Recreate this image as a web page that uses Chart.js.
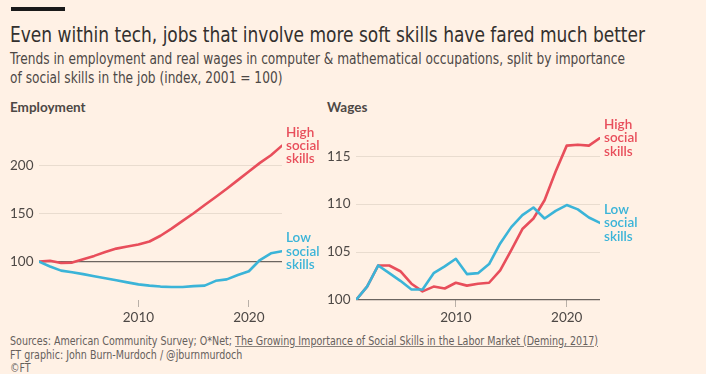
<!DOCTYPE html>
<html>
<head>
<meta charset="utf-8">
<script src="https://cdn.jsdelivr.net/npm/chart.js@4"></script>
<style>
  html, body { margin: 0; padding: 0; }
  body { width: 706px; height: 374px; background: #fff1e5; position: relative; overflow: hidden;
         font-family: "DejaVu Sans Condensed", Lato, sans-serif; color: #33302e; }
  .abs { position: absolute; white-space: nowrap; transform-origin: 0 0; }
  .abs span { display: block; width: max-content; }
  #bar { left: 11px; top: 7px; width: 54px; height: 4px; background: #1a1a1a; }
  #title { left: 10px; top: 23px; font-size: 21px; line-height: 24px; }
  #sub { left: 10px; top: 50px; font-size: 15px; line-height: 19px; color: #4d4845; }
  .panel { top: 99px; font-size: 13.5px; line-height: 16px; font-weight: bold; color: #4d4845; font-family: Lato, sans-serif; }
  #foot { left: 10px; top: 335px; font-size: 12px; line-height: 13.7px; color: #66605c; }
  #foot u { text-decoration-color: #8a827c; }
  canvas { position: absolute; }
</style>
</head>
<body>
<div id="bar" class="abs"></div>
<div id="title" class="abs fit" data-w="635"><span>Even within tech, jobs that involve more soft skills have fared much better</span></div>
<div id="sub" class="abs fit" data-w="615"><span>Trends in employment and real wages in computer &amp; mathematical occupations, split by importance</span><span>of social skills in the job (index, 2001 = 100)</span></div>
<div class="abs panel" style="left:10px">Employment</div>
<div class="abs panel" style="left:327px">Wages</div>
<div id="foot" class="abs fit" data-w="588"><span>Sources: American Community Survey; O*Net; <u>The Growing Importance of Social Skills in the Labor Market (Deming, 2017)</u></span><span>FT graphic: John Burn-Murdoch / @jburnmurdoch</span><span>©FT</span></div>

<canvas id="emp" width="330" height="235" style="left:0px;top:95px"></canvas>
<canvas id="wage" width="388" height="235" style="left:318px;top:95px"></canvas>

<script>
// squeeze the wide fallback font to the width of the narrow original
document.querySelectorAll(".fit").forEach(el => {
    const widest = Math.max(...[...el.children].map(s => s.getBoundingClientRect().width));
    el.style.transform = "scaleX(" + (el.dataset.w / widest) + ")";
});

const years = [2001, 2002, 2003, 2004, 2005, 2006, 2007, 2008, 2009, 2010, 2011, 2012,
               2013, 2014, 2015, 2016, 2017, 2018, 2019, 2020, 2021, 2022, 2023];

// Employment index (2001 = 100)
const empHigh = [100, 101, 98.6, 99, 102.4, 106, 110, 113.6, 115.7, 117.8, 121, 127,
                 134.5, 142.5, 150.5, 159, 167.5, 176, 185, 194, 203, 211, 221];
const empLow = [100, 95, 90.6, 89, 87, 84.7, 82.6, 80.5, 78.4, 76.3, 75, 74,
                73.5, 73.5, 74.5, 75, 80, 81.5, 86, 90, 101.7, 108.7, 110.8];

// Real wages index (2001 = 100)
const wageHigh = [100, 101.4, 103.6, 103.6, 103, 101.7, 100.9, 101.4, 101.2, 101.8, 101.5, 101.7,
                  101.8, 103.1, 105.2, 107.4, 108.5, 110.4, 113.4, 116.1, 116.2, 116.1, 116.9];
const wageLow = [100, 101.4, 103.6, 102.8, 102, 101.1, 101.1, 102.8, 103.5, 104.3, 102.7, 102.8,
                 103.75, 105.9, 107.6, 108.85, 109.65, 108.5, 109.3, 109.9, 109.45, 108.6, 108.05];

const xTicks = [2010, 2020];
const empTicks = [100, 150, 200];
const wageTicks = [100, 105, 110, 115];

const highLabel = ["High", "social", "skills"];
const lowLabel = ["Low", "social", "skills"];

const RED = "#e84e5b";
const BLUE = "#3bb4d8";

Chart.defaults.font.family = "Lato, sans-serif";
Chart.defaults.color = "#66605c";

// writes the series name next to the last point of each line
const endLabels = {
    id: "endLabels",
    afterDatasetsDraw(chart) {
        const ctx = chart.ctx;
        ctx.save();
        ctx.font = "600 13.5px Lato, sans-serif";
        ctx.textBaseline = "middle";
        chart.data.datasets.forEach((ds, i) => {
            const pts = chart.getDatasetMeta(i).data;
            const last = pts[pts.length - 1];
            ctx.fillStyle = ds.borderColor;
            ds.endLabel.forEach((t, j) => {
                ctx.fillText(t, last.x + 4, last.y + (j - 1) * 13.4);
            });
        });
        ctx.restore();
    }
};

function makeChart(id, high, low, yMin, yMax, yTicks, padLeft, padRight) {
    const pts = arr => years.map((y, i) => ({ x: y, y: arr[i] }));
    return new Chart(document.getElementById(id), {
        type: "line",
        data: {
            datasets: [
                { data: pts(low), borderColor: BLUE, endLabel: lowLabel },
                { data: pts(high), borderColor: RED, endLabel: highLabel },
            ],
        },
        options: {
            responsive: false,
            animation: false,
            layout: { padding: { left: padLeft, right: padRight, top: 42, bottom: 0 } },
            elements: {
                line: { borderWidth: 2.6, tension: 0, borderCapStyle: "round", borderJoinStyle: "round" },
                point: { radius: 0 },
            },
            plugins: { legend: { display: false }, tooltip: { enabled: false } },
            scales: {
                x: {
                    type: "linear",
                    min: 2001,
                    max: 2023,
                    afterBuildTicks: s => { s.ticks = xTicks.map(v => ({ value: v })); },
                    afterFit: s => { s.height = 30; },
                    border: { display: false },
                    grid: { drawOnChartArea: false, drawTicks: true, tickLength: 7, color: "#b9b0a8" },
                    ticks: { padding: 3, font: { size: 13.5 }, color: "#4d4845", callback: v => String(v) },
                },
                y: {
                    min: yMin,
                    max: yMax,
                    afterBuildTicks: s => { s.ticks = yTicks.map(v => ({ value: v })); },
                    afterFit: s => { s.width = 29; },
                    border: { display: false },
                    grid: {
                        drawTicks: false,
                        color: c => (c.tick && c.tick.value === 100 ? "#6b6560" : "#e9dccf"),
                        lineWidth: c => (c.tick && c.tick.value === 100 ? 1.2 : 1),
                    },
                    ticks: { crossAlign: "far", padding: 0, font: { size: 13.5 }, color: "#4d4845" },
                },
            },
        },
        plugins: [endLabels],
    });
}

makeChart("emp", empHigh, empLow, 60, 230, empTicks, 10, 48);
makeChart("wage", wageHigh, wageLow, 100, 117, wageTicks, 9, 106);
</script>
</body>
</html>
